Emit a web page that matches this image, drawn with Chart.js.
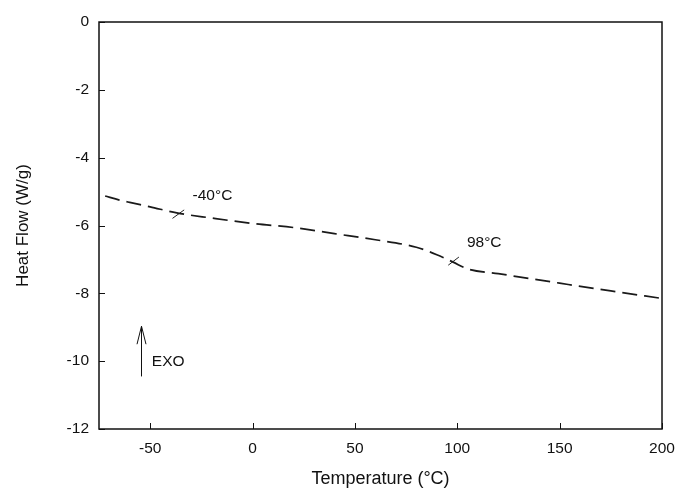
<!DOCTYPE html>
<html>
<head>
<meta charset="utf-8">
<script src="https://cdn.jsdelivr.net/npm/chart.js@4.4.1/dist/chart.umd.min.js"></script>
<style>
  html, body { margin: 0; padding: 0; background: #fff; }
  #wrap { width: 676px; height: 490px; }
</style>
</head>
<body>
<div id="wrap"><canvas id="dscChart"></canvas></div>
<script>
// DSC trace
var temperature = [-72, -65, -60, -50, -37, -20, 0, 20, 40, 60, 80, 90, 98, 105, 120, 150, 175, 200];
var heatFlow = [-5.13, -5.25, -5.32, -5.45, -5.63, -5.78, -5.94, -6.06, -6.24, -6.42, -6.64, -6.86, -7.08, -7.28, -7.42, -7.70, -7.93, -8.15];
var xTickValues = [-50, 0, 50, 100, 150, 200];
var yTickValues = [-12, -10, -8, -6, -4, -2, 0];

// transition marks (slashes across the curve) and their labels
var markLow = [{x: -39.1, y: -5.79}, {x: -33.4, y: -5.54}];
var markHigh = [{x: 95.6, y: -7.17}, {x: 100.8, y: -6.93}];
var notes = [
  {text: '-40°C', x: -29.3, y: -5.13},
  {text: '98°C', x: 104.7, y: -6.51},
  {text: 'EXO', x: -49.2, y: -10.02}
];
var exoArrow = {x: -54.5, yFrom: -10.45, yTo: -8.97};

var FONT = '"Liberation Sans", Arial, sans-serif';
var INK = '#111';

var framePlugin = {
  id: 'frame',
  afterDatasetsDraw: function(chart) {
    var ctx = chart.ctx;
    var a = chart.chartArea;
    var xs = chart.scales.x, ys = chart.scales.y;
    ctx.save();
    ctx.strokeStyle = INK;
    ctx.lineWidth = 1.5;
    ctx.strokeRect(a.left, a.top, a.right - a.left, a.bottom - a.top);

    // inward tick marks
    ctx.lineWidth = 1;
    ctx.beginPath();
    xTickValues.forEach(function(v) {
      var px = Math.round(xs.getPixelForValue(v)) + 0.5;
      ctx.moveTo(px, a.bottom);
      ctx.lineTo(px, a.bottom - 6);
    });
    yTickValues.forEach(function(v) {
      var py = Math.round(ys.getPixelForValue(v)) + 0.5;
      ctx.moveTo(a.left, py);
      ctx.lineTo(a.left + 6, py);
    });
    ctx.stroke();

    // text notes
    ctx.fillStyle = INK;
    ctx.font = '15.5px ' + FONT;
    ctx.textAlign = 'left';
    ctx.textBaseline = 'middle';
    notes.forEach(function(n) {
      ctx.fillText(n.text, xs.getPixelForValue(n.x), ys.getPixelForValue(n.y));
    });

    // EXO arrow
    var ax = Math.round(xs.getPixelForValue(exoArrow.x)) + 0.5;
    var y0 = ys.getPixelForValue(exoArrow.yFrom);
    var y1 = ys.getPixelForValue(exoArrow.yTo);
    ctx.beginPath();
    ctx.moveTo(ax, y0);
    ctx.lineTo(ax, y1);
    ctx.moveTo(ax - 4.5, y1 + 18);
    ctx.lineTo(ax, y1);
    ctx.lineTo(ax + 4.5, y1 + 18);
    ctx.stroke();
    ctx.restore();
  }
};

var ctx = document.getElementById('dscChart').getContext('2d');
var dscChart = new Chart(ctx, {
  type: 'line',
  data: {
    datasets: [{
      label: 'Heat Flow',
      data: temperature.map(function(t, i) { return {x: t, y: heatFlow[i]}; }),
      borderColor: '#1a1a1a',
      borderWidth: 1.7,
      borderDash: [15, 7],
      pointRadius: 0,
      cubicInterpolationMode: 'monotone',
      fill: false
    }, {
      label: 'mark -40',
      data: markLow,
      borderColor: '#222',
      borderWidth: 1,
      pointRadius: 0
    }, {
      label: 'mark 98',
      data: markHigh,
      borderColor: '#222',
      borderWidth: 1,
      pointRadius: 0
    }]
  },
  options: {
    responsive: true,
    maintainAspectRatio: false,
    animation: false,
    layout: { padding: { left: 0, right: 14, top: 22, bottom: 0 } },
    plugins: {
      legend: { display: false },
      tooltip: { enabled: false }
    },
    scales: {
      x: {
        type: 'linear',
        min: -75,
        max: 200,
        afterBuildTicks: function(scale) {
          scale.ticks = xTickValues.map(function(v) { return {value: v}; });
        },
        afterFit: function(scale) {
          scale.height = 61;
          scale.paddingLeft = 0;
          scale.paddingRight = 0;
        },
        grid: { display: false, drawTicks: false },
        border: { display: false },
        ticks: { color: INK, padding: 10, font: { family: FONT, size: 15.5 } },
        title: {
          display: true,
          text: 'Temperature (°C)',
          color: INK,
          font: { family: FONT, size: 18 },
          padding: { top: 0, bottom: 0 }
        }
      },
      y: {
        type: 'linear',
        min: -12,
        max: 0,
        afterBuildTicks: function(scale) {
          scale.ticks = yTickValues.map(function(v) { return {value: v}; });
        },
        afterFit: function(scale) {
          scale.width = 99;
          scale.paddingTop = 0;
          scale.paddingBottom = 0;
        },
        grid: { display: false, drawTicks: false },
        border: { display: false },
        ticks: { color: INK, padding: 10, font: { family: FONT, size: 15.5 } },
        title: {
          display: true,
          text: 'Heat Flow (W/g)',
          color: INK,
          font: { family: FONT, size: 17 },
          padding: { top: 13, bottom: 0 }
        }
      }
    }
  },
  plugins: [framePlugin]
});
</script>
</body>
</html>
